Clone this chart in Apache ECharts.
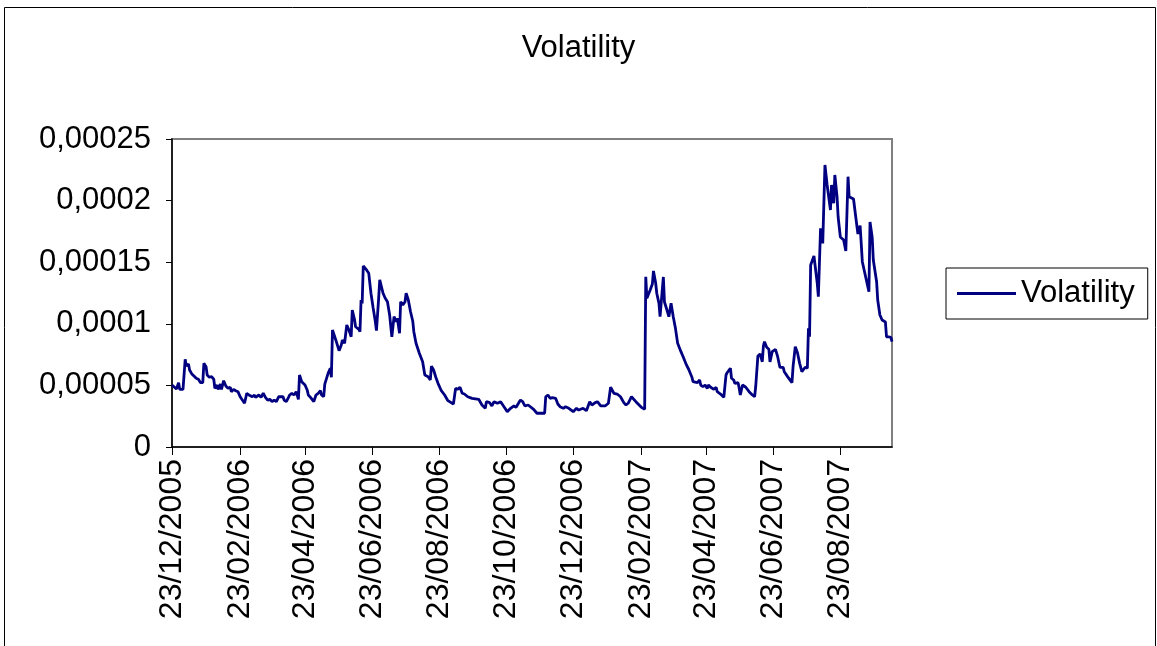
<!DOCTYPE html>
<html>
<head>
<meta charset="utf-8">
<script src="https://cdn.jsdelivr.net/npm/echarts@6/dist/echarts.min.js"></script>
<style>
html,body{margin:0;padding:0;background:#fff;}
#chart{width:1157px;height:646px;}
</style>
</head>
<body>
<div id="chart"></div>
<script>
const obsDates = [
'23/12/2005','27/12/2005','29/12/2005','30/12/2005','02/01/2006','04/01/2006','05/01/2006','07/01/2006','08/01/2006','09/01/2006',
'10/01/2006','12/01/2006','14/01/2006','16/01/2006','18/01/2006','20/01/2006','21/01/2006','23/01/2006','24/01/2006','26/01/2006',
'28/01/2006','30/01/2006','31/01/2006','02/02/2006','03/02/2006','05/02/2006','06/02/2006','08/02/2006','10/02/2006','12/02/2006',
'14/02/2006','15/02/2006','17/02/2006','19/02/2006','21/02/2006','23/02/2006','25/02/2006','27/02/2006','01/03/2006','03/03/2006',
'06/03/2006','08/03/2006','09/03/2006','12/03/2006','14/03/2006','16/03/2006','18/03/2006','20/03/2006','22/03/2006','24/03/2006',
'26/03/2006','28/03/2006','30/03/2006','31/03/2006','03/04/2006','04/04/2006','06/04/2006','08/04/2006','09/04/2006','11/04/2006',
'13/04/2006','15/04/2006','17/04/2006','18/04/2006','20/04/2006','23/04/2006','25/04/2006','26/04/2006','28/04/2006','01/05/2006',
'03/05/2006','05/05/2006','07/05/2006','08/05/2006','10/05/2006','11/05/2006','14/05/2006','16/05/2006','17/05/2006','18/05/2006',
'19/05/2006','21/05/2006','22/05/2006','24/05/2006','26/05/2006','27/05/2006','29/05/2006','31/05/2006','02/06/2006','04/06/2006',
'05/06/2006','07/06/2006','08/06/2006','11/06/2006','12/06/2006','13/06/2006','14/06/2006','15/06/2006','18/06/2006','20/06/2006',
'22/06/2006','24/06/2006','26/06/2006','27/06/2006','29/06/2006','30/06/2006','03/07/2006','05/07/2006','07/07/2006','09/07/2006',
'11/07/2006','13/07/2006','15/07/2006','16/07/2006','18/07/2006','19/07/2006','21/07/2006','23/07/2006','24/07/2006','26/07/2006',
'28/07/2006','30/07/2006','31/07/2006','02/08/2006','05/08/2006','08/08/2006','10/08/2006','13/08/2006','15/08/2006','16/08/2006',
'18/08/2006','20/08/2006','22/08/2006','25/08/2006','28/08/2006','31/08/2006','05/09/2006','07/09/2006','09/09/2006','11/09/2006',
'13/09/2006','15/09/2006','18/09/2006','22/09/2006','28/09/2006','01/10/2006','04/10/2006','05/10/2006','08/10/2006','10/10/2006',
'12/10/2006','15/10/2006','18/10/2006','21/10/2006','24/10/2006','27/10/2006','30/10/2006','01/11/2006','02/11/2006','05/11/2006',
'07/11/2006','09/11/2006','12/11/2006','17/11/2006','20/11/2006','27/11/2006','28/11/2006','30/11/2006','02/12/2006','04/12/2006',
'07/12/2006','09/12/2006','11/12/2006','14/12/2006','16/12/2006','19/12/2006','23/12/2006','26/12/2006','28/12/2006','29/12/2006',
'01/01/2007','04/01/2007','07/01/2007','09/01/2007','10/01/2007','12/01/2007','14/01/2007','17/01/2007','21/01/2007','24/01/2007',
'26/01/2007','29/01/2007','01/02/2007','04/02/2007','07/02/2007','09/02/2007','11/02/2007','14/02/2007','18/02/2007','23/02/2007',
'26/02/2007','27/02/2007','28/02/2007','03/03/2007','05/03/2007','06/03/2007','08/03/2007','09/03/2007','11/03/2007','12/03/2007',
'15/03/2007','16/03/2007','18/03/2007','20/03/2007','22/03/2007','24/03/2007','26/03/2007','28/03/2007','31/03/2007','02/04/2007',
'05/04/2007','07/04/2007','10/04/2007','11/04/2007','15/04/2007','17/04/2007','18/04/2007','20/04/2007','22/04/2007','24/04/2007',
'25/04/2007','27/04/2007','30/04/2007','02/05/2007','03/05/2007','06/05/2007','09/05/2007','10/05/2007','11/05/2007','12/05/2007',
'15/05/2007','16/05/2007','18/05/2007','19/05/2007','22/05/2007','23/05/2007','24/05/2007','26/05/2007','29/05/2007','01/06/2007',
'04/06/2007','06/06/2007','07/06/2007','09/06/2007','11/06/2007','13/06/2007','14/06/2007','15/06/2007','17/06/2007','19/06/2007',
'20/06/2007','22/06/2007','25/06/2007','27/06/2007','29/06/2007','02/07/2007','03/07/2007','06/07/2007','10/07/2007','11/07/2007',
'13/07/2007','15/07/2007','17/07/2007','19/07/2007','22/07/2007','24/07/2007','25/07/2007','26/07/2007','27/07/2007','30/07/2007',
'02/08/2007','03/08/2007','05/08/2007','07/08/2007','09/08/2007','11/08/2007','14/08/2007','15/08/2007','17/08/2007','18/08/2007',
'20/08/2007','21/08/2007','23/08/2007','26/08/2007','28/08/2007','30/08/2007','31/08/2007','04/09/2007','06/09/2007','08/09/2007',
'10/09/2007','11/09/2007','12/09/2007','15/09/2007','18/09/2007','19/09/2007','21/09/2007','22/09/2007','25/09/2007','26/09/2007',
'28/09/2007','30/09/2007','01/10/2007','03/10/2007','04/10/2007','06/10/2007','08/10/2007','09/10/2007'
];
const volatility = [
5.03e-5,4.71e-5,5.22e-5,4.68e-5,4.68e-5,7.12e-5,6.57e-5,6.74e-5,6.25e-5,6.39e-5,
5.93e-5,5.76e-5,5.58e-5,5.50e-5,5.22e-5,5.22e-5,6.79e-5,6.52e-5,5.84e-5,5.66e-5,
5.71e-5,5.50e-5,4.76e-5,5.03e-5,4.68e-5,5.11e-5,4.68e-5,5.38e-5,4.95e-5,4.76e-5,
4.85e-5,4.49e-5,4.68e-5,4.57e-5,4.49e-5,4.08e-5,3.81e-5,3.55e-5,4.36e-5,4.22e-5,
4.08e-5,4.22e-5,4.03e-5,4.22e-5,4.03e-5,4.36e-5,4.03e-5,3.81e-5,3.87e-5,3.68e-5,
3.81e-5,3.68e-5,4.08e-5,4.03e-5,4.08e-5,3.81e-5,3.68e-5,4.03e-5,4.22e-5,4.36e-5,
4.22e-5,4.49e-5,3.87e-5,5.84e-5,5.30e-5,5.03e-5,4.63e-5,4.22e-5,4.03e-5,3.68e-5,
4.22e-5,4.36e-5,4.57e-5,4.22e-5,4.08e-5,5.11e-5,5.98e-5,6.39e-5,5.66e-5,9.50e-5,
9.36e-5,8.69e-5,8.55e-5,7.82e-5,8.28e-5,8.69e-5,8.42e-5,9.90e-5,9.50e-5,8.95e-5,
11.12e-5,10.37e-5,9.76e-5,9.55e-5,9.36e-5,11.93e-5,11.66e-5,14.69e-5,14.37e-5,14.10e-5,
12.48e-5,11.28e-5,10.17e-5,9.44e-5,12.07e-5,13.56e-5,12.48e-5,12.07e-5,11.79e-5,10.71e-5,
8.95e-5,10.58e-5,10.17e-5,10.45e-5,9.23e-5,11.79e-5,11.53e-5,11.79e-5,12.48e-5,11.93e-5,
10.98e-5,10.23e-5,9.36e-5,8.42e-5,7.61e-5,6.92e-5,5.84e-5,5.71e-5,5.44e-5,6.57e-5,
6.25e-5,5.66e-5,5.17e-5,4.57e-5,4.22e-5,3.76e-5,3.49e-5,4.76e-5,4.68e-5,4.85e-5,
4.36e-5,4.30e-5,4.08e-5,3.95e-5,3.87e-5,3.41e-5,3.14e-5,3.68e-5,3.60e-5,3.33e-5,
3.68e-5,3.55e-5,3.68e-5,3.27e-5,2.87e-5,3.14e-5,3.33e-5,3.22e-5,3.06e-5,3.81e-5,
3.68e-5,3.33e-5,3.41e-5,3.06e-5,2.74e-5,2.74e-5,4.08e-5,4.22e-5,3.95e-5,4.00e-5,
3.95e-5,3.49e-5,3.27e-5,3.14e-5,3.27e-5,3.14e-5,2.87e-5,3.14e-5,3.00e-5,3.00e-5,
3.14e-5,2.95e-5,3.68e-5,3.41e-5,3.33e-5,3.60e-5,3.68e-5,3.33e-5,3.33e-5,3.55e-5,
4.85e-5,4.36e-5,4.30e-5,4.08e-5,3.60e-5,3.41e-5,3.55e-5,4.08e-5,3.68e-5,3.22e-5,
3.06e-5,13.82e-5,12.07e-5,12.74e-5,13.23e-5,14.29e-5,13.31e-5,12.48e-5,11.66e-5,10.58e-5,
13.80e-5,11.77e-5,11.20e-5,10.58e-5,11.66e-5,10.58e-5,9.63e-5,8.42e-5,7.74e-5,7.33e-5,
6.66e-5,6.31e-5,5.66e-5,5.30e-5,5.22e-5,5.44e-5,5.03e-5,4.89e-5,5.03e-5,4.76e-5,
5.03e-5,4.85e-5,4.68e-5,4.85e-5,4.49e-5,4.30e-5,4.03e-5,3.87e-5,5.84e-5,6.03e-5,
6.39e-5,5.58e-5,5.44e-5,5.17e-5,5.22e-5,4.76e-5,4.22e-5,5.03e-5,4.85e-5,4.49e-5,
4.22e-5,4.08e-5,4.89e-5,7.39e-5,7.55e-5,6.92e-5,8.20e-5,8.55e-5,8.09e-5,7.93e-5,
6.90e-5,7.74e-5,7.93e-5,7.33e-5,6.47e-5,6.47e-5,6.11e-5,5.71e-5,5.22e-5,6.52e-5,
8.14e-5,7.65e-5,6.79e-5,6.11e-5,6.47e-5,6.39e-5,9.63e-5,8.95e-5,14.77e-5,15.50e-5,
13.29e-5,12.20e-5,17.75e-5,16.53e-5,22.89e-5,21.27e-5,19.24e-5,21.27e-5,19.78e-5,22.08e-5,
20.32e-5,18.67e-5,17.05e-5,16.80e-5,15.91e-5,21.94e-5,20.32e-5,20.13e-5,18.69e-5,17.29e-5,
17.98e-5,16.53e-5,15.04e-5,13.82e-5,12.61e-5,18.26e-5,17.00e-5,15.18e-5,13.42e-5,11.93e-5,
10.71e-5,10.31e-5,10.45e-5,10.15e-5,8.95e-5,8.93e-5,8.90e-5,8.55e-5
];
// Tick labels on the date axis
const xTickLabels = ['23/12/2005','23/02/2006','23/04/2006','23/06/2006','23/08/2006','23/10/2006',
  '23/12/2006','23/02/2007','23/04/2007','23/06/2007','23/08/2007'];
const yTickLabels = ['0','0,00005','0,0001','0,00015','0,0002','0,00025'];
const axisStart = '23/12/2005';
const axisEnd = '09/10/2007';

function parseDMY(s){const p=s.split('/');return Date.UTC(+p[2],+p[1]-1,+p[0]);}
function fmt(t){const d=new Date(t);const dd=String(d.getUTCDate()).padStart(2,'0');const mm=String(d.getUTCMonth()+1).padStart(2,'0');return dd+'/'+mm+'/'+d.getUTCFullYear();}
// one category per calendar day (date axis)
const categories=[];
for(let t=parseDMY(axisStart);t<=parseDMY(axisEnd);t+=86400000){categories.push(fmt(t));}
const catIndex={};categories.forEach((c,i)=>catIndex[c]=i);
const seriesData=obsDates.map((d,i)=>[catIndex[d],volatility[i]]);
const tickSet=new Set(xTickLabels);

const FONT='"Liberation Sans", Arial, sans-serif';
const chart=echarts.init(document.getElementById('chart'),null,{renderer:'canvas'});
chart.setOption({
  animation:false,
  backgroundColor:'#fff',
  title:{text:'Volatility',left:'center',top:28,textStyle:{fontFamily:FONT,fontSize:31,fontWeight:'normal',color:'#000'}},
  graphic:[{type:'rect',shape:{x:4.5,y:7.5,width:1151,height:660},style:{fill:'none',stroke:'#000',lineWidth:1},silent:true,z:-1}],
  legend:{show:true,left:946,top:268,orient:'vertical',icon:'rect',itemWidth:59,itemHeight:3,
    borderColor:'#000',borderWidth:1,padding:[10,13,10,11],
    textStyle:{fontFamily:FONT,fontSize:31,color:'#000'},data:['Volatility']},
  grid:{left:172,top:139,width:720,height:308,show:true,borderColor:'#808080',borderWidth:2,backgroundColor:'#fff'},
  xAxis:{type:'category',data:categories,boundaryGap:false,
    axisLine:{show:true,lineStyle:{color:'#000',width:1.5}},
    axisTick:{show:true,length:8,interval:(i,v)=>tickSet.has(v),lineStyle:{color:'#000',width:1}},
    axisLabel:{show:true,interval:(i,v)=>tickSet.has(v),rotate:90,margin:12,fontFamily:FONT,fontSize:32,color:'#000'},
    splitLine:{show:false}},
  yAxis:{type:'value',min:0,max:0.00025,interval:0.00005,
    axisLine:{show:true,lineStyle:{color:'#000',width:1.5}},
    axisTick:{show:true,length:6,lineStyle:{color:'#000',width:1}},
    axisLabel:{margin:21,fontFamily:FONT,fontSize:31,color:'#000',formatter:v=>yTickLabels[Math.round(v/0.00005)]},
    splitLine:{show:false}},
  series:[{name:'Volatility',type:'line',data:seriesData,showSymbol:false,symbol:'none',
    lineStyle:{color:'#000080',width:2.8},itemStyle:{color:'#000080'}}]
});
</script>
</body>
</html>
